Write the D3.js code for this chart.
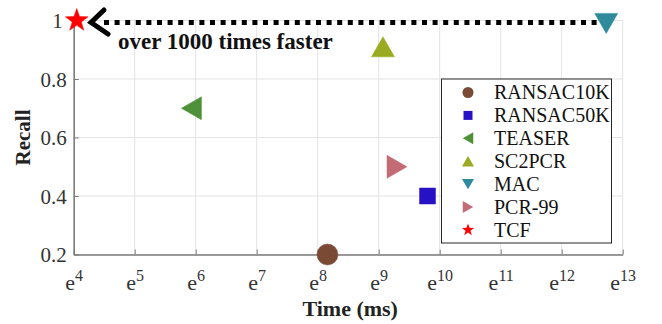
<!DOCTYPE html>
<html>
<head>
<meta charset="utf-8">
<script src="https://cdn.jsdelivr.net/npm/d3@7"></script>
<style>
  html, body { margin: 0; padding: 0; background: #fff; }
  svg { display: block; }
</style>
</head>
<body>
<svg id="chart" width="662" height="324"></svg>
<script>
// ---- data ----
const methods = ["RANSAC10K", "RANSAC50K", "TEASER", "SC2PCR", "MAC", "PCR-99", "TCF"];
const logTime = [8.16, 9.80, 5.93, 9.07, 12.73, 9.30, 4.05];   // exponent of e (ms)
const recall  = [0.20, 0.40, 0.70, 0.91, 0.99, 0.50, 1.00];
const colors  = ["#7b4a35", "#2612c4", "#4e9138", "#9aab22", "#2f8b9b", "#c36c76", "#ff0000"];
const shapes  = ["circle", "square", "left", "up", "down", "right", "star"];
const xTicks = [4, 5, 6, 7, 8, 9, 10, 11, 12, 13];
const yTicks = [0.2, 0.4, 0.6, 0.8, 1];
const annotationText = "over 1000 times faster";

const SERIF = "'Liberation Serif', 'Times New Roman', Times, serif";

// ---- layout ----
const svg = d3.select("#chart");
const L = 73.7, R = 622.7, T = 20.5, B = 254.5;
const x = d3.scaleLinear().domain([4, 13]).range([L, R]);
const y = d3.scaleLinear().domain([0.2, 1]).range([B, T]);

// gridlines
const grid = svg.append("g").attr("stroke", "#e3e3e3").attr("stroke-width", 1);
grid.selectAll("line.gx").data(xTicks).join("line")
  .attr("x1", d => x(d)).attr("x2", d => x(d)).attr("y1", T).attr("y2", B);
grid.selectAll("line.gy").data(yTicks).join("line")
  .attr("x1", L).attr("x2", R).attr("y1", d => y(d)).attr("y2", d => y(d));

// axes
const xAxis = d3.axisBottom(x).tickValues(xTicks).tickSizeInner(-5).tickSizeOuter(0).tickFormat("");
const yAxis = d3.axisLeft(y).tickValues(yTicks).tickSizeInner(-5).tickSizeOuter(0).tickFormat(d3.format("~g"));
const gx = svg.append("g").attr("transform", `translate(0,${B})`).call(xAxis).attr("font-family", SERIF);
const gy = svg.append("g").attr("transform", `translate(${L},0)`).call(yAxis).attr("font-family", SERIF);
[gx, gy].forEach(g => {
  g.select(".domain").attr("stroke", "#7a7a7a").attr("stroke-width", 1.5);
  g.selectAll(".tick line").attr("stroke", "#7a7a7a").attr("stroke-width", 1);
});
gy.selectAll(".tick text")
  .attr("x", d => d === 1 ? -11 : -7).attr("dy", "0.34em")
  .attr("font-size", 21).attr("fill", "#333")
  .attr("font-family", SERIF);

// x tick labels as e^n
gx.selectAll(".tick").each(function(d) {
  const t = d3.select(this).append("text")
    .attr("y", 35.5).attr("text-anchor", "middle").attr("fill", "#333")
    .attr("font-family", SERIF);
  t.append("tspan").attr("font-size", 22).text("e");
  t.append("tspan").attr("font-size", 16).attr("dy", -9).text(d);
});

// axis titles
svg.append("text")
  .attr("x", (L + R) / 2 + 2).attr("y", 316)
  .attr("text-anchor", "middle").attr("font-weight", "bold").attr("font-size", 22)
  .attr("font-family", SERIF).attr("fill", "#222").text("Time (ms)");
svg.append("text")
  .attr("transform", `translate(30,${(T + B) / 2}) rotate(-90)`)
  .attr("text-anchor", "middle").attr("font-weight", "bold").attr("font-size", 21)
  .attr("font-family", SERIF).attr("fill", "#222").text("Recall");

// marker paths
function markerPath(shape, s) {
  switch (shape) {
    case "circle": return d3.symbol(d3.symbolCircle, Math.PI * s * s)();
    case "square": return `M${-s},${-s}H${s}V${s}H${-s}Z`;
    case "up":    return `M0,${-s * 0.87}L${s},${s * 0.87}L${-s},${s * 0.87}Z`;
    case "down":  return `M0,${s * 0.87}L${s},${-s * 0.87}L${-s},${-s * 0.87}Z`;
    case "left":  return `M${-s * 0.87},0L${s * 0.87},${-s}L${s * 0.87},${s}Z`;
    case "right": return `M${s * 0.87},0L${-s * 0.87},${-s}L${-s * 0.87},${s}Z`;
    case "star": {
      const pts = [];
      for (let i = 0; i < 10; i++) {
        const r = i % 2 === 0 ? s : s * 0.4;
        const a = -Math.PI / 2 + i * Math.PI / 5;
        pts.push([r * Math.cos(a), r * Math.sin(a)]);
      }
      return "M" + pts.map(p => p.join(",")).join("L") + "Z";
    }
  }
}
const plotSize = { circle: 10.5, square: 8, up: 11.5, down: 11.5, left: 11.5, right: 11.5, star: 12 };
const legSize  = { circle: 5.5, square: 4.5, up: 6, down: 6, left: 6, right: 6, star: 6.5 };

// annotation: dotted arrow line
const arrowY = 22.5;
svg.append("line")
  .attr("x1", 104).attr("x2", 598).attr("y1", arrowY).attr("y2", arrowY)
  .attr("stroke", "#000").attr("stroke-width", 5).attr("stroke-dasharray", "5,5.6");
svg.append("path")
  .attr("d", `M104,10L91,${arrowY}L108,34`)
  .attr("fill", "none").attr("stroke", "#000").attr("stroke-width", 5)
  .attr("stroke-linecap", "round").attr("stroke-linejoin", "miter");
svg.append("text")
  .attr("x", 118).attr("y", 49).attr("font-weight", "bold").attr("font-size", 23)
  .attr("font-family", SERIF).attr("fill", "#111").text(annotationText);

// data markers
const pts = methods.map((m, i) => ({ m, lx: logTime[i], r: recall[i], c: colors[i], s: shapes[i] }));
svg.append("g").selectAll("path").data(pts).join("path")
  .attr("transform", d => `translate(${x(d.lx)},${y(d.r)})`)
  .attr("d", d => markerPath(d.s, plotSize[d.s]))
  .attr("fill", d => d.c).attr("stroke", d => d.c).attr("stroke-width", 0.5);

// legend
const lg = svg.append("g");
lg.append("rect").attr("x", 441.5).attr("y", 79).attr("width", 170).attr("height", 164)
  .attr("fill", "#fff").attr("stroke", "#262626").attr("stroke-width", 1);
const rowY = i => 92.5 + i * 22.9;
lg.selectAll("path").data(pts).join("path")
  .attr("transform", (d, i) => `translate(468,${rowY(i)})`)
  .attr("d", d => markerPath(d.s, legSize[d.s]))
  .attr("fill", d => d.c);
lg.selectAll("text").data(pts).join("text")
  .attr("x", 494).attr("y", (d, i) => rowY(i)).attr("dy", "0.34em")
  .attr("font-size", 20).attr("font-family", SERIF).attr("fill", "#111").text(d => d.m);
</script>
</body>
</html>
